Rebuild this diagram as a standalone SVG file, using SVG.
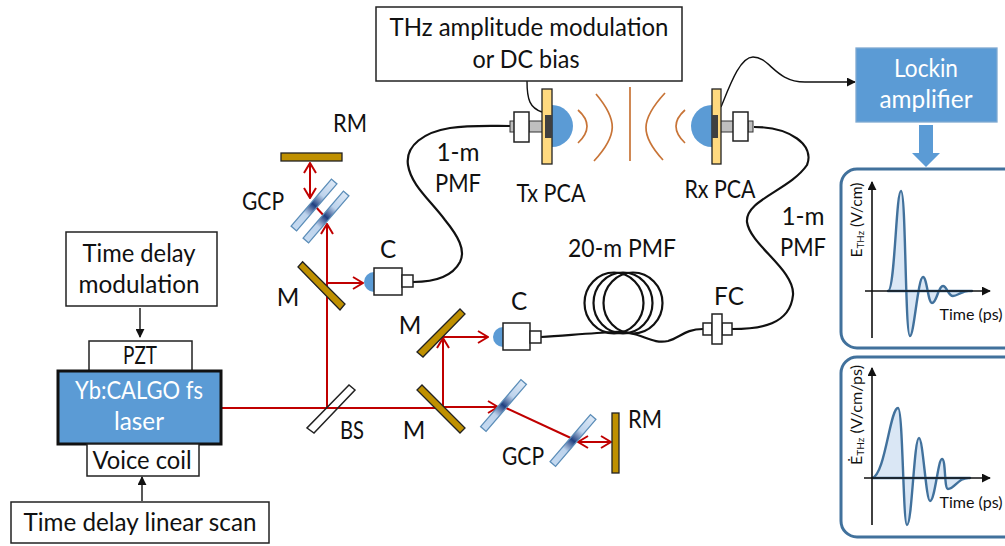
<svg xmlns="http://www.w3.org/2000/svg" width="1005" height="546" viewBox="0 0 1005 546">
<style>
text{font-family:"Lato","Liberation Sans",sans-serif;font-size:24.3px;fill:#111;text-anchor:middle}
.w{fill:#fff}
.box{fill:#fff;stroke:#222;stroke-width:1.5}
.gold{fill:#BF9000;stroke:#222;stroke-width:1.3}
.gcp{fill:url(#g);stroke:#5B8DB8;stroke-width:1.3}
.beam{fill:none;stroke:#C00000;stroke-width:2}
.fib{fill:none;stroke:#111;stroke-width:2.2}
.wire{fill:none;stroke:#111;stroke-width:1.4}
.thz{fill:none;stroke:#C87437;stroke-width:1.7}
.lens{fill:#5B9BD5}
.grey{fill:#BFBFBF;stroke:#333;stroke-width:1}
.panel{fill:#fff;stroke:#41719C;stroke-width:3}
.sig{fill:#DAE7F5;stroke:#41719C;stroke-width:2.4;stroke-linejoin:round}
.axis{fill:none;stroke:#111;stroke-width:1.6}
.small{font-size:16px}
</style>
<defs>
<linearGradient id="g" x1="0" y1="0" x2="1" y2="0"><stop offset="0" stop-color="#C5DAF1"/><stop offset=".3" stop-color="#BDD3EC"/><stop offset=".5" stop-color="#1F3F80"/><stop offset=".7" stop-color="#BDD3EC"/><stop offset="1" stop-color="#DCE8F6"/></linearGradient>
<marker id="ra" viewBox="0 0 12 14" refX="11" refY="7" markerWidth="12" markerHeight="14" markerUnits="userSpaceOnUse" orient="auto-start-reverse"><path d="M1 1L11 7L1 13" fill="none" stroke="#C00000" stroke-width="2"/></marker>
<marker id="ka" viewBox="0 0 10 10" refX="9" refY="5" markerWidth="9" markerHeight="9" markerUnits="userSpaceOnUse" orient="auto"><path d="M0 0L10 5L0 10Z" fill="#111"/></marker>
</defs>

<g id="connectors">
<path class="fib" d="M510 126C490 126 470 125 450 128C425 132 405 145 408 165C411 185 430 200 445 220C458 236 466 250 460 262C452 277 435 282 413 282"/>
<path class="fib" d="M541 337C570 335 595 333 613 332C640 330 650 345 668 341C680 338 685 329 703 329"/>
<path class="fib" d="M732 329C760 329 790 325 793 295C795 270 750 245 747 222C745 200 790 190 807 165C815 145 790 127 754 127"/>
<path class="wire" d="M527 81C527 100 530 108 542 112"/>
<path class="wire" marker-end="url(#ka)" d="M721 107C730 85 740 57 753 57C770 57 775 82 805 82L855 82"/>
<path class="wire" marker-end="url(#ka)" d="M140 308V337"/>
<path class="wire" marker-end="url(#ka)" d="M142 501V477"/>
<path class="beam" d="M222 408H443"/>
<path class="beam" marker-end="url(#ra)" d="M443 407H498"/>
<path class="beam" d="M504 407L573 439"/>
<path class="beam" marker-start="url(#ra)" marker-end="url(#ra)" d="M578 442H611"/>
<path class="beam" marker-end="url(#ra)" d="M443 407V338"/>
<path class="beam" marker-end="url(#ra)" d="M443 337H488"/>
<path class="beam" marker-end="url(#ra)" d="M327 408V224"/>
<path class="beam" marker-end="url(#ra)" d="M327 283H363"/>
<path class="beam" d="M315 206L325 217"/>
<path class="beam" marker-start="url(#ra)" marker-end="url(#ra)" d="M310 163V198"/>
</g>

<g id="thz-waves">
<path class="thz" d="M578 110Q596 126 578 143"/>
<path class="thz" d="M596 94C618 120 618 135 594 161"/>
<path class="thz" d="M630 87V161"/>
<path class="thz" d="M665 93C640 120 640 135 663 160"/>
<path class="thz" d="M685 110Q667 126 685 143"/>
</g>

<g id="top-box"><rect class="box" x="376" y="7" width="306" height="74"/><text x="529" y="36" textLength="279" lengthAdjust="spacingAndGlyphs">THz amplitude modulation</text><text x="526" y="68" textLength="107" lengthAdjust="spacingAndGlyphs">or DC bias</text></g>

<g id="tx-pca">
<path class="lens" d="M552 105A21 21 0 0 1 552 147Z"/>
<rect class="grey" x="510" y="121" width="5" height="11"/>
<rect class="grey" x="529" y="121" width="14" height="11"/>
<rect class="box" x="514" y="112" width="15" height="30"/>
<rect x="542" y="89" width="10" height="75" fill="#FFD97F" stroke="#222" stroke-width="1.3"/>
<rect x="545" y="115" width="7" height="23" fill="#404040"/>
<text x="551" y="202" textLength="69" lengthAdjust="spacingAndGlyphs">Tx PCA</text>
</g>
<g id="rx-pca">
<path class="lens" d="M712 105A21 21 0 0 0 712 147Z"/>
<rect class="grey" x="748" y="121" width="5" height="11"/>
<rect class="grey" x="720" y="121" width="14" height="11"/>
<rect class="box" x="733" y="112" width="15" height="29"/>
<rect x="712" y="89" width="9" height="75" fill="#FFD97F" stroke="#222" stroke-width="1.3"/>
<rect x="712" y="115" width="6" height="23" fill="#404040"/>
<text x="720" y="198" textLength="71" lengthAdjust="spacingAndGlyphs">Rx PCA</text>
</g>

<g id="lockin"><rect x="856" y="48" width="141" height="74" fill="#5B9BD5" stroke="#7FA9D2" stroke-width="1.3"/><text class="w" x="926" y="77" style="fill:#fff" textLength="64" lengthAdjust="spacingAndGlyphs">Lockin</text><text x="926" y="108" style="fill:#fff" textLength="93" lengthAdjust="spacingAndGlyphs">amplifier</text>
<path d="M919 125H933V153H940L926 167L912 153H919Z" fill="#5B9BD5"/></g>

<g id="rm-top"><rect class="gold" x="281" y="153" width="61" height="8"/><text x="350" y="132" textLength="34" lengthAdjust="spacingAndGlyphs">RM</text></g>
<g id="gcp-top">
<g transform="translate(314 205) rotate(-49.4)"><rect class="gcp" x="-31" y="-3.6" width="62" height="7.2"/></g>
<g transform="translate(326 217) rotate(-49.4)"><rect class="gcp" x="-31" y="-3.6" width="62" height="7.2"/></g>
<text x="263" y="210" textLength="42" lengthAdjust="spacingAndGlyphs">GCP</text>
</g>
<g id="m-top"><path class="gold" d="M298 267L302.600 261.700L345 304L340 310Z"/><text x="288" y="306">M</text></g>
<g id="c-top"><path class="lens" d="M374 272A10 10 0 0 0 374 292Z"/><rect class="box" x="374" y="268" width="28" height="27"/><rect class="box" x="402" y="275" width="11" height="12"/><text x="388" y="258">C</text></g>
<text x="458" y="161">1-m</text><text x="458" y="192" textLength="46" lengthAdjust="spacingAndGlyphs">PMF</text>
<text x="803" y="225">1-m</text><text x="803" y="256" textLength="46" lengthAdjust="spacingAndGlyphs">PMF</text>

<g id="m-mid"><path class="gold" d="M417 352L423 357L465 314L460 309Z"/><text x="410" y="334">M</text></g>
<g id="m-low"><path class="gold" d="M417 390L422 385L465 428L460 433Z"/><text x="414" y="439">M</text></g>
<g id="c-mid"><path class="lens" d="M503 327A10 10 0 0 0 503 347Z"/><rect class="box" x="503" y="323" width="27" height="27"/><rect class="box" x="530" y="331" width="11" height="12"/><text x="519" y="310">C</text></g>
<g id="fiber-coil"><ellipse class="fib" cx="614" cy="303" rx="29.500" ry="30.500"/><ellipse class="fib" cx="623" cy="303" rx="29.500" ry="30.500"/><ellipse class="fib" cx="633" cy="303" rx="29.500" ry="30.500"/><text x="622" y="257" textLength="108" lengthAdjust="spacingAndGlyphs">20-m PMF</text></g>
<g id="fc"><rect class="box" x="703" y="323" width="9" height="12"/><rect class="box" x="722" y="323" width="10" height="12"/><rect class="box" x="712" y="314" width="10" height="30"/><text x="729" y="305">FC</text></g>
<g id="bs"><path class="box" d="M307 428L314 433L355 390L349 385Z" style="fill:none"/><text x="352" y="439" textLength="24" lengthAdjust="spacingAndGlyphs">BS</text></g>
<g id="gcp-mid"><g transform="translate(503.500 405.500) rotate(-49.4)"><rect class="gcp" x="-31" y="-3.600" width="62" height="7.200"/></g></g>
<g id="gcp-low"><g transform="translate(573 440.500) rotate(-49.4)"><rect class="gcp" x="-31" y="-3.600" width="62" height="7.200"/></g><text x="523" y="465" textLength="42" lengthAdjust="spacingAndGlyphs">GCP</text></g>
<g id="rm-right"><rect class="gold" x="612" y="413" width="7" height="60"/><text x="645" y="428" textLength="34" lengthAdjust="spacingAndGlyphs">RM</text></g>

<g id="delay-box"><rect class="box" x="66" y="232" width="151" height="74"/><text x="139" y="262" textLength="113" lengthAdjust="spacingAndGlyphs">Time delay</text><text x="139" y="293" textLength="121" lengthAdjust="spacingAndGlyphs">modulation</text></g>
<g id="pzt"><rect class="box" x="89" y="341" width="103" height="30"/><text x="140" y="364" textLength="34" lengthAdjust="spacingAndGlyphs">PZT</text></g>
<g id="laser"><rect x="58" y="371" width="163" height="73" fill="#5B9BD5" stroke="#111" stroke-width="3"/><text x="139" y="399" style="fill:#fff" textLength="128" lengthAdjust="spacingAndGlyphs">Yb:CALGO fs</text><text x="139" y="430" style="fill:#fff" textLength="50" lengthAdjust="spacingAndGlyphs">laser</text></g>
<g id="voice"><rect class="box" x="87" y="444" width="112" height="32"/><text x="142" y="469" textLength="99" lengthAdjust="spacingAndGlyphs">Voice coil</text></g>
<g id="scan"><rect class="box" x="11" y="502" width="258" height="41"/><text x="140" y="531" textLength="233" lengthAdjust="spacingAndGlyphs">Time delay linear scan</text></g>

<g id="panel-1">
<rect class="panel" x="841" y="169" width="180" height="179" rx="16"/>
<path class="sig" d="M888 291C895 291 896 191 901 191C906 191 905 336 910 336C914 336 918 277 923 277C927 277 928 303 932 303C937 303 938 286 943 286C947 286 948 296 953 296C958 296 962 290 972 291Z"/>
<path class="axis" marker-end="url(#ka)" d="M872 338V182"/>
<path class="axis" marker-end="url(#ka)" d="M865 291H990"/>
<text class="small" x="971" y="320" textLength="63" lengthAdjust="spacingAndGlyphs">Time (ps)</text>
<text class="small" transform="translate(862 220) rotate(-90)" textLength="75" lengthAdjust="spacingAndGlyphs">E<tspan font-size="10" dy="2">THz</tspan><tspan dy="-2"> (V/cm)</tspan></text>
</g>
<g id="panel-2">
<rect class="panel" x="841" y="357" width="180" height="180" rx="16"/>
<path class="sig" d="M872 478C885 476 890 408 898 408C903 408 903 525 907 525C912 525 914 438 919 438C923 438 926 501 930 501C935 501 938 459 942 459C946 459 944 489 948 489C955 489 958 477 970 478Z"/>
<path class="axis" marker-end="url(#ka)" d="M872 525V368"/>
<path class="axis" marker-end="url(#ka)" d="M864 478H990"/>
<text class="small" x="971" y="508" textLength="63" lengthAdjust="spacingAndGlyphs">Time (ps)</text>
<text class="small" transform="translate(862 415) rotate(-90)" textLength="100" lengthAdjust="spacingAndGlyphs">Ė<tspan font-size="10" dy="2">THz</tspan><tspan dy="-2"> (V/cm/ps)</tspan></text>
</g>
</svg>
